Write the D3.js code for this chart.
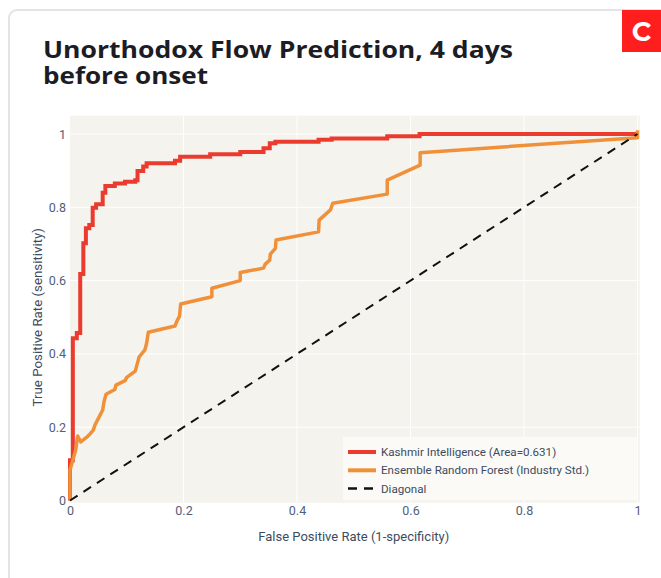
<!DOCTYPE html>
<html>
<head>
<meta charset="utf-8">
<script src="https://cdn.jsdelivr.net/npm/d3@7"></script>
<style>
  html, body { margin: 0; padding: 0; background: #ffffff; }
  svg { display: block; }
</style>
</head>
<body>
<svg id="chart" width="661" height="578"></svg>
<script>
// ---- Data ----
const titleLines = ["Unorthodox Flow Prediction, 4 days", "before onset"];
const xTicks = [0, 0.2, 0.4, 0.6, 0.8, 1];
const yTicks = [0, 0.2, 0.4, 0.6, 0.8, 1];
const xTickLabels = ["0", "0.2", "0.4", "0.6", "0.8", "1"];
const yTickLabels = ["0", "0.2", "0.4", "0.6", "0.8", "1"];
const seriesNames = ["Kashmir Intelligence (Area=0.631)", "Ensemble Random Forest (Industry Std.)", "Diagonal"];

const kashmirFPR = [0,0,0.005,0.005,0.012,0.012,0.018,0.018,0.0235,0.0235,0.028,0.028,0.034,0.034,0.04,0.04,0.046,0.046,0.0576,0.0576,0.0623,0.0623,0.079,0.079,0.097,0.097,0.115,0.115,0.119,0.119,0.129,0.129,0.135,0.135,0.185,0.185,0.194,0.194,0.247,0.247,0.30,0.30,0.341,0.341,0.352,0.352,0.362,0.362,0.438,0.438,0.461,0.461,0.559,0.559,0.616,0.616,1];
const kashmirTPR = [0,0.11,0.11,0.443,0.443,0.457,0.457,0.618,0.618,0.702,0.702,0.743,0.743,0.752,0.752,0.799,0.799,0.808,0.808,0.84,0.84,0.858,0.858,0.865,0.865,0.870,0.870,0.874,0.874,0.899,0.899,0.911,0.911,0.920,0.920,0.927,0.927,0.938,0.938,0.945,0.945,0.951,0.951,0.961,0.961,0.975,0.975,0.979,0.979,0.984,0.984,0.988,0.988,0.994,0.994,1.0,1.0];

const ensembleFPR = [0,0,0.01,0.0135,0.019,0.029,0.035,0.041,0.044,0.05,0.0576,0.06,0.0635,0.079,0.081,0.097,0.1,0.115,0.118,0.122,0.132,0.135,0.138,0.185,0.188,0.193,0.195,0.25,0.25,0.30,0.30,0.341,0.344,0.352,0.353,0.362,0.363,0.438,0.439,0.459,0.463,0.559,0.559,0.617,0.617,1,1];
const ensembleTPR = [0,0.083,0.138,0.176,0.16,0.172,0.181,0.192,0.206,0.224,0.247,0.27,0.29,0.303,0.315,0.327,0.336,0.353,0.37,0.392,0.411,0.429,0.459,0.476,0.488,0.503,0.536,0.556,0.579,0.60,0.622,0.634,0.645,0.656,0.672,0.688,0.711,0.733,0.765,0.793,0.811,0.836,0.874,0.915,0.949,0.99,1.01];

const diagonalFPR = [0, 1];
const diagonalTPR = [0, 1];

// ---- Drawing ----
const svg = d3.select("#chart");
const colors = ["#ea3b2e", "#f0913a", "#111111"];

// card
svg.append("rect")
  .attr("x", 9).attr("y", 10).attr("width", 700).attr("height", 620)
  .attr("rx", 8).attr("fill", "#ffffff")
  .attr("stroke", "#e4e4e4").attr("stroke-width", 2);

// logo
svg.append("rect").attr("x", 622).attr("y", 10).attr("width", 39).attr("height", 42).attr("fill", "#ff1e1e");
svg.append("text").attr("x", 641.5).attr("y", 40.5)
  .attr("text-anchor", "middle").attr("font-family", "Montserrat, 'Open Sans', sans-serif")
  .attr("font-weight", 700).attr("font-size", 27).attr("fill", "#ffffff").text("C");

// title (two lines, stretched to the reference width)
const titleWidths = [470, 165];
titleLines.forEach((t, i) => {
  svg.append("text").attr("x", 43).attr("y", 58 + i * 26)
    .attr("font-family", "'Open Sans', sans-serif")
    .attr("font-weight", 700).attr("font-size", 24).attr("fill", "#1c1c24")
    .attr("textLength", titleWidths[i]).attr("lengthAdjust", "spacingAndGlyphs")
    .text(t);
});

const x = d3.scaleLinear().domain([0, 1]).range([70, 637.5]);
const y = d3.scaleLinear().domain([0, 1]).range([500.5, 134]);

// plot background
svg.append("rect")
  .attr("x", x(0)).attr("y", y(1.05))
  .attr("width", x(1.004) - x(0)).attr("height", y(-0.006) - y(1.05))
  .attr("fill", "#f4f3ee");

// grid
const grid = svg.append("g").attr("stroke", "#ffffff").attr("stroke-width", 1);
xTicks.filter(d => d > 0).forEach(d => {
  grid.append("line").attr("x1", x(d)).attr("x2", x(d)).attr("y1", y(1.05)).attr("y2", y(-0.006));
});
yTicks.filter(d => d > 0).forEach(d => {
  grid.append("line").attr("x1", x(0)).attr("x2", x(1.004)).attr("y1", y(d)).attr("y2", y(d));
});

// axes via d3 axis generators
const xAxis = d3.axisBottom(x).tickValues(xTicks).tickFormat((d, i) => xTickLabels[i]).tickSize(0).tickPadding(5);
const yAxis = d3.axisLeft(y).tickValues(yTicks).tickFormat((d, i) => yTickLabels[i]).tickSize(0).tickPadding(4);
const gx = svg.append("g").attr("transform", `translate(0,${y(0) + 1})`).call(xAxis);
const gy = svg.append("g").attr("transform", `translate(${x(0)},0)`).call(yAxis);
[gx, gy].forEach(g => {
  g.select(".domain").remove();
  g.selectAll("text").attr("font-family", "Roboto, sans-serif").attr("font-size", 12.5).attr("fill", "#506078");
});

// axis titles
svg.append("text").attr("x", (x(0) + x(1)) / 2).attr("y", 541)
  .attr("text-anchor", "middle").attr("font-family", "Roboto, sans-serif").attr("font-size", 13)
  .attr("fill", "#3d4b60").text("False Positive Rate (1-specificity)");
svg.append("text").attr("transform", `translate(42,${(y(0) + y(1)) / 2}) rotate(-90)`)
  .attr("text-anchor", "middle").attr("font-family", "Roboto, sans-serif").attr("font-size", 13.3)
  .attr("fill", "#3d4b60").text("True Positive Rate (sensitivity)");

// lines
const line = d3.line().x(d => x(d[0])).y(d => y(d[1]));
const zip = (a, b) => a.map((v, i) => [v, b[i]]);
svg.append("clipPath").attr("id", "pclip").append("rect")
  .attr("x", x(0) - 2).attr("y", y(1.05)).attr("width", x(1.004) - x(0) + 4).attr("height", y(-0.006) - y(1.05) + 2);

const plotG = svg.append("g").attr("clip-path", "url(#pclip)");
plotG.append("path").datum(zip(kashmirFPR, kashmirTPR)).attr("d", line)
  .attr("fill", "none").attr("stroke", colors[0]).attr("stroke-width", 4).attr("stroke-linejoin", "miter");
plotG.append("path").datum(zip(ensembleFPR, ensembleTPR)).attr("d", line)
  .attr("fill", "none").attr("stroke", colors[1]).attr("stroke-width", 3.5).attr("stroke-linejoin", "round");
plotG.append("path").datum(zip(diagonalFPR, diagonalTPR)).attr("d", line)
  .attr("fill", "none").attr("stroke", colors[2]).attr("stroke-width", 2).attr("stroke-dasharray", "9,7");

// legend
const lg = svg.append("g");
lg.append("rect").attr("x", 343).attr("y", 437).attr("width", 294.5).attr("height", 63)
  .attr("fill", "#fbfaf7").attr("fill-opacity", 0.85);
seriesNames.forEach((name, i) => {
  const ly = 452 + i * 18.3;
  lg.append("line").attr("x1", 348).attr("x2", 376).attr("y1", ly).attr("y2", ly)
    .attr("stroke", colors[i]).attr("stroke-width", i === 2 ? 2.5 : 4)
    .attr("stroke-dasharray", i === 2 ? "9,7" : null);
  lg.append("text").attr("x", 381).attr("y", ly + 4)
    .attr("font-family", "Roboto, sans-serif").attr("font-size", 11.6).attr("fill", "#3d4b60").text(name);
});
</script>
</body>
</html>
